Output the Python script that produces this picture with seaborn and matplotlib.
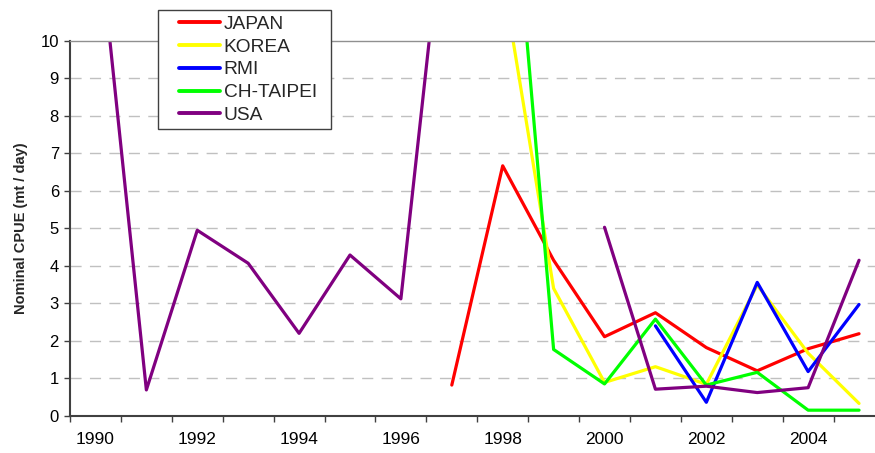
import numpy as np
import pandas as pd
import matplotlib
matplotlib.use("Agg")
import matplotlib.pyplot as plt
from matplotlib.patches import Rectangle
import seaborn as sns

years = list(range(1990, 2006))
tick_labels = ["1990", "1992", "1994", "1996", "1998", "2000", "2002", "2004"]
fleets = ["JAPAN", "KOREA", "RMI", "CH-TAIPEI", "USA"]
nan = np.nan
japan = [nan, nan, nan, nan, nan, nan, nan, 0.82, 6.67, 4.15, 2.11, 2.75, 1.82, 1.20, 1.79, 2.19]
korea = [nan, nan, nan, nan, nan, nan, nan, nan, 11.7, 3.40, 0.89, 1.31, 0.84, 3.49, 1.67, 0.33]
rmi = [nan, nan, nan, nan, nan, nan, nan, nan, nan, nan, nan, 2.40, 0.36, 3.56, 1.18, 2.97]
taipei = [nan, nan, nan, nan, nan, nan, nan, nan, 17.5, 1.77, 0.85, 2.58, 0.82, 1.16, 0.15, 0.15]
usa = [13.7, 0.69, 4.95, 4.07, 2.20, 4.29, 3.12, 15.5, nan, nan, 5.03, 0.71, 0.79, 0.62, 0.75, 4.15]
colors = ["#FF0000", "#FFFF00", "#0000FF", "#00FF00", "#800080"]

series = dict(zip(fleets, [japan, korea, rmi, taipei, usa]))
rows = []
for name, vals in series.items():
    seg = 0
    prev_nan = True
    for i, v in enumerate(vals):
        if np.isnan(v):
            prev_nan = True
            continue
        if prev_nan:
            seg += 1
        prev_nan = False
        rows.append({"idx": i, "year": years[i], "value": v, "fleet": name,
                     "segment": f"{name}_{seg}"})
df = pd.DataFrame(rows)

sns.set_theme(style="white")
plt.rcParams["font.family"] = ["Liberation Sans", "DejaVu Sans"]

W, H = 875, 453
fig = plt.figure(figsize=(W / 100, H / 100), dpi=100)
left, right, top, bottom = 70, 884.5, 41, 415.8
ax = fig.add_axes([left / W, 1 - bottom / H, (right - left) / W, (bottom - top) / H])

sns.lineplot(data=df, x="idx", y="value", hue="fleet", hue_order=fleets,
             palette=dict(zip(fleets, colors)), units="segment", estimator=None,
             linewidth=2.3, ax=ax, legend=True, sort=True)

ax.set_xlim(-0.5, 15.5)
ax.set_ylim(0, 10)
ax.set_yticks(range(0, 11))
ax.set_xticks(range(0, 16, 2))
ax.set_xticklabels(tick_labels)
ax.set_xticks(np.arange(-0.5, 16, 1), minor=True)
ax.tick_params(axis="x", which="major", length=0, pad=12, labelsize=12.5, colors="black")
ax.tick_params(axis="x", which="minor", length=4, width=1, color="#404040", direction="out", bottom=True)
ax.tick_params(axis="y", which="major", length=4, width=1, color="#404040", direction="out",
               left=True, pad=4, labelsize=12, labelcolor="black")
ax.set_xlabel("")
ax.set_ylabel("Nominal CPUE (mt / day)", fontsize=10.5, fontweight="bold", labelpad=9)

for y in range(1, 10):
    ax.axhline(y, color="#c0c0c0", linewidth=1, linestyle=(0, (8, 6)), zorder=0)

for s in ["left", "bottom"]:
    ax.spines[s].set_color("#404040")
    ax.spines[s].set_linewidth(1.5)
for s in ["top", "right"]:
    ax.spines[s].set_color("#909090")
    ax.spines[s].set_linewidth(1)

# legend frame drawn separately
bx0, by0, bx1, by1 = 158, 10, 331, 129
frame = Rectangle((bx0 / W, 1 - by1 / H), (bx1 - bx0) / W, (by1 - by0) / H,
                  transform=fig.transFigure, facecolor="white", edgecolor="#404040",
                  linewidth=1, zorder=9, clip_on=False)
ax.add_patch(frame)

handles, labels = ax.get_legend_handles_labels()
leg = ax.legend(handles, labels, loc="upper left", bbox_to_anchor=(179 / W, 1 - 15.5 / H),
                bbox_transform=fig.transFigure, borderaxespad=0, fontsize=13.8,
                frameon=False, handlelength=2.14, handletextpad=0.2, labelspacing=0.28,
                borderpad=0, title=None)
for line in leg.get_lines():
    line.set_linewidth(2.8)
leg.set_zorder(10)

fig.savefig("out.png", dpi=100)
